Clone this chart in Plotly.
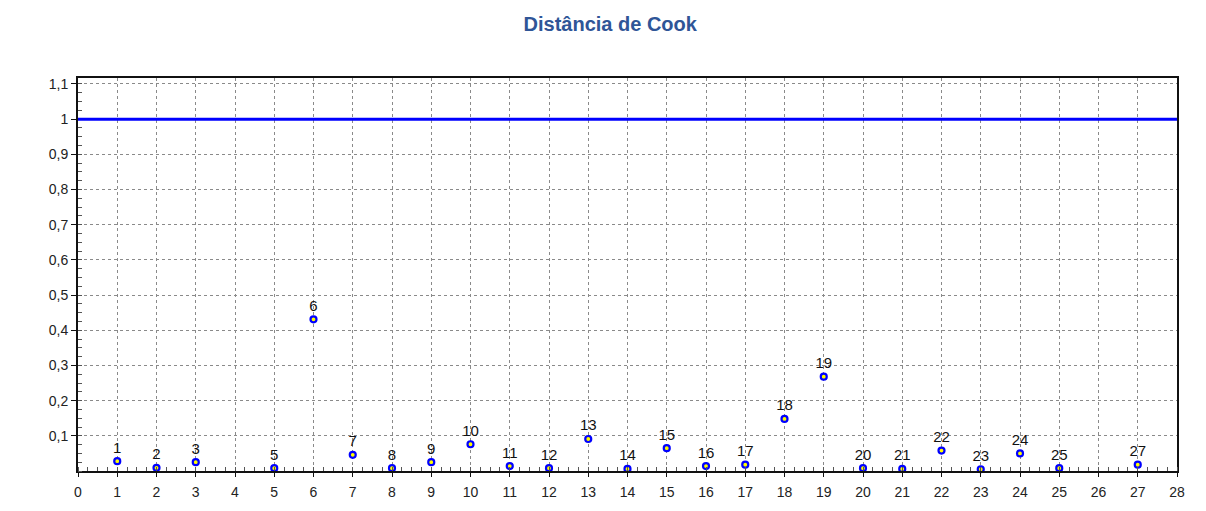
import plotly.graph_objects as go

# Data
obs = [1, 2, 3, 5, 6, 7, 8, 9, 10, 11, 12, 13, 14, 15, 16, 17, 18, 19, 20, 21, 22, 23, 24, 25, 27]
cook = [0.028, 0.009, 0.025, 0.008, 0.431, 0.046, 0.008, 0.025, 0.076, 0.014, 0.008, 0.091,
        0.006, 0.065, 0.014, 0.018, 0.148, 0.268, 0.008, 0.006, 0.058, 0.005, 0.050, 0.008, 0.018]
labels = [str(o) for o in obs]
threshold = 1.0
y_tickvals = [0.1, 0.2, 0.3, 0.4, 0.5, 0.6, 0.7, 0.8, 0.9, 1.0, 1.1]
y_ticktext = ["0,1", "0,2", "0,3", "0,4", "0,5", "0,6", "0,7", "0,8", "0,9", "1", "1,1"]
x_tickvals = list(range(0, 29))
x_ticktext = [str(v) for v in x_tickvals]

fig = go.Figure()

fig.add_trace(go.Scatter(
    x=obs, y=cook, mode="markers+text", text=labels,
    textposition="top center",
    textfont=dict(family="Liberation Sans", size=15, color="#111111"),
    marker=dict(size=6, color="#FFFF00", line=dict(color="#0000FF", width=2.2)),
    cliponaxis=False, showlegend=False,
))

fig.add_shape(type="line", xref="paper", x0=0, x1=1, yref="y", y0=threshold, y1=threshold,
              line=dict(color="#0000FF", width=3))

fig.update_layout(
    width=1206, height=511,
    margin=dict(l=78, r=29, t=78, b=40),
    paper_bgcolor="white", plot_bgcolor="white",
    title=dict(text="<b>Distância de Cook</b>", x=0.506, xref="container", xanchor="center",
               y=1 - 24 / 511, yref="container", yanchor="middle",
               font=dict(family="Liberation Sans", size=20, color="#2F5597")),
    font=dict(family="Liberation Sans", size=14, color="#333333"),
)

fig.update_xaxes(
    range=[0, 28], tickmode="array", tickvals=x_tickvals, ticktext=x_ticktext,
    showgrid=True, gridcolor="#8a8a8a", griddash="3px,3px", gridwidth=1,
    showline=True, linecolor="#111111", linewidth=2, mirror=True,
    ticks="outside", ticklen=4, tickcolor="#111111", ticklabelstandoff=3,
    zeroline=False,
    minor=dict(dtick=0.25, tick0=0, ticks="inside", ticklen=4, tickcolor="#555555", showgrid=False),
    tickfont=dict(size=14, color="#222222"),
)
fig.update_yaxes(
    range=[0, 1.117], tickmode="array", tickvals=y_tickvals, ticktext=y_ticktext,
    showgrid=True, gridcolor="#8a8a8a", griddash="3px,3px", gridwidth=1,
    showline=True, linecolor="#111111", linewidth=2, mirror=True,
    ticks="outside", ticklen=5, tickcolor="#111111",
    zeroline=False,
    minor=dict(dtick=0.025, tick0=0, ticks="inside", ticklen=4, tickcolor="#555555", showgrid=False),
    tickfont=dict(size=14, color="#222222"),
)

fig.write_html("out.html", config={"displayModeBar": False},
               post_script="document.body.style.margin='0';")
